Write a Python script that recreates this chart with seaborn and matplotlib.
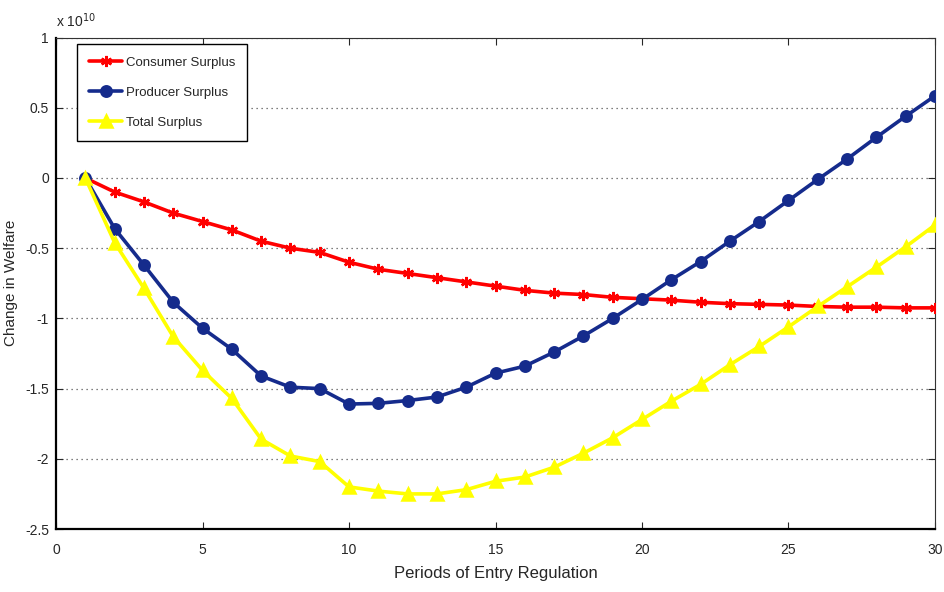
import matplotlib
matplotlib.use("Agg")
import matplotlib.pyplot as plt
import seaborn as sns
import pandas as pd

periods = list(range(1, 31))
consumer = [0.0, -0.10, -0.17, -0.25, -0.31, -0.37, -0.45, -0.50, -0.53, -0.60,
            -0.65, -0.68, -0.71, -0.74, -0.77, -0.80, -0.82, -0.83, -0.85, -0.86,
            -0.87, -0.885, -0.895, -0.90, -0.905, -0.915, -0.92, -0.92, -0.925, -0.925]
producer = [0.0, -0.36, -0.62, -0.885, -1.07, -1.22, -1.41, -1.49, -1.50, -1.61,
            -1.605, -1.585, -1.56, -1.49, -1.39, -1.34, -1.24, -1.125, -1.00, -0.865,
            -0.725, -0.595, -0.45, -0.31, -0.16, -0.01, 0.135, 0.29, 0.44, 0.585]
total = [0.0, -0.46, -0.785, -1.13, -1.37, -1.57, -1.86, -1.98, -2.02, -2.20,
         -2.23, -2.25, -2.25, -2.22, -2.16, -2.13, -2.06, -1.96, -1.85, -1.72,
         -1.59, -1.47, -1.33, -1.20, -1.06, -0.915, -0.775, -0.635, -0.49, -0.335]
series_names = ["Consumer Surplus", "Producer Surplus", "Total Surplus"]
x_ticks = [0, 5, 10, 15, 20, 25, 30]
y_ticks = [1, 0.5, 0, -0.5, -1, -1.5, -2, -2.5]
y_tick_labels = ["1", "0.5", "0", "-0.5", "-1", "-1.5", "-2", "-2.5"]

sns.set_style("ticks")
plt.rcParams["font.family"] = ["Liberation Sans Narrow", "Liberation Sans", "DejaVu Sans"]
plt.rcParams["axes.unicode_minus"] = False

df = pd.DataFrame({
    "Period": periods * 3,
    "Value": consumer + producer + total,
    "Series": [series_names[0]] * 30 + [series_names[1]] * 30 + [series_names[2]] * 30,
})

fig = plt.figure(figsize=(9.45, 5.92), dpi=100)
ax = fig.add_axes([0.0593, 0.1064, 0.9301, 0.8301])

colors = {series_names[0]: "#ff0000", series_names[1]: "#152b8c", series_names[2]: "#ffff00"}
markers = {series_names[0]: (6, 2, 0), series_names[1]: "o", series_names[2]: "^"}
msizes = {series_names[0]: 8, series_names[1]: 7.5, series_names[2]: 9}

for name in series_names:
    sub = df[df["Series"] == name]
    sns.lineplot(data=sub, x="Period", y="Value", ax=ax, color=colors[name],
                 marker=markers[name], markersize=msizes[name], linewidth=2.6,
                 markeredgecolor=colors[name], markeredgewidth=1.8, label=name,
                 zorder=3)

ax.set_xlim(0, 30)
ax.set_ylim(-2.5, 1)
ax.set_xticks(x_ticks)
ax.set_xticklabels([str(t) for t in x_ticks], fontsize=10)
ax.set_yticks(y_ticks)
ax.set_yticklabels(y_tick_labels, fontsize=10)
ax.yaxis.grid(True, linestyle=(0, (1, 3)), color="#555555", linewidth=0.9)
ax.xaxis.grid(False)
ax.tick_params(axis="x", direction="in", top=True, length=5, width=0.8, pad=10)
ax.tick_params(axis="y", direction="in", right=True, length=5, width=0.8, pad=5)

for side in ["top", "right"]:
    ax.spines[side].set_visible(True)
    ax.spines[side].set_linewidth(0.8)
    ax.spines[side].set_color("#333333")
for side in ["bottom", "left"]:
    ax.spines[side].set_linewidth(1.6)
    ax.spines[side].set_color("black")

ax.set_xlabel("Periods of Entry Regulation", fontsize=12)
ax.xaxis.set_label_coords(0.5, -0.076)
ax.set_ylabel("Change in Welfare", fontsize=11, family=["Liberation Sans", "DejaVu Sans"])
ax.yaxis.set_label_coords(-0.043, 0.5)
ax.text(0.0, 1.015, r"x 10$^{10}$", transform=ax.transAxes, fontsize=10, ha="left", va="bottom")

leg = ax.legend(loc="upper left", bbox_to_anchor=(0.024, 0.986), fontsize=9.5,
                frameon=True, fancybox=False, edgecolor="black", framealpha=1,
                handlelength=2.5, borderpad=0.9, labelspacing=1.35, handletextpad=0.3,
                borderaxespad=0)
leg.get_frame().set_linewidth(1.0)

fig.savefig("out.png", dpi=100)
